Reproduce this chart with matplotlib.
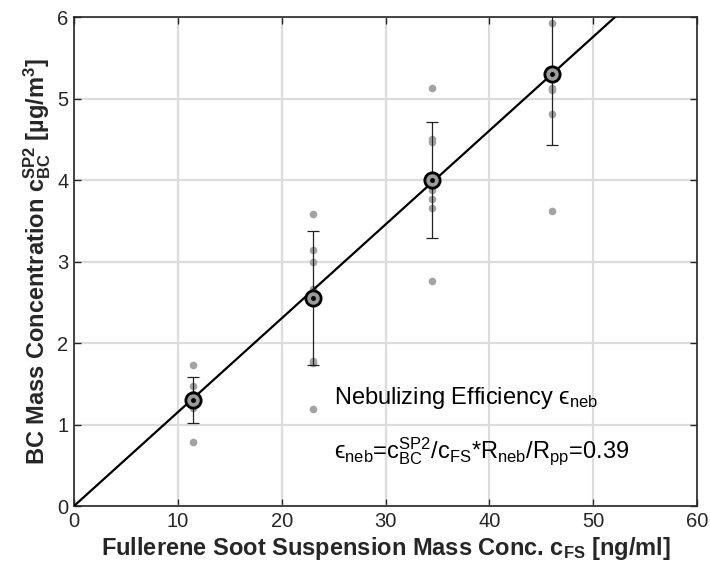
import matplotlib
matplotlib.use("Agg")
import matplotlib.pyplot as plt
import numpy as np

plt.rcParams['font.family'] = ['Liberation Sans', 'DejaVu Sans']
plt.rcParams['mathtext.fontset'] = 'custom'
plt.rcParams['mathtext.rm'] = 'Liberation Sans'
plt.rcParams['mathtext.it'] = 'Liberation Sans:italic'
plt.rcParams['mathtext.bf'] = 'Liberation Sans:bold'
plt.rcParams['mathtext.sf'] = 'Liberation Sans'

# ---- data ----
fs_conc = [11.5, 23.0, 34.5, 46.0]
mean_bc = [1.30, 2.55, 4.00, 5.30]
err_bc = [0.28, 0.82, 0.71, 0.87]
single_g1 = [1.73, 1.48, 1.38, 1.26, 1.20, 0.79]
single_g2 = [3.58, 3.14, 3.00, 2.67, 1.78, 1.76, 1.19]
single_g3 = [5.13, 4.50, 4.47, 3.88, 3.77, 3.66, 2.76]
single_g4 = [5.93, 5.30, 5.13, 5.10, 4.81, 3.62]
fit_slope = 0.1152
x_ticks = [0, 10, 20, 30, 40, 50, 60]
y_ticks = [0, 1, 2, 3, 4, 5, 6]

fig = plt.figure(figsize=(7.1, 5.7), dpi=100)
ax = fig.add_axes([0.104, 0.112, 0.878, 0.858])

ax.grid(True, color='#dcdcdc', linewidth=1.6, zorder=0)
ax.set_axisbelow(True)

singles = [single_g1, single_g2, single_g3, single_g4]
for xv, vals in zip(fs_conc, singles):
    ax.plot([xv] * len(vals), vals, 'o', color='#a3a3a3', markersize=5.5,
            markeredgewidth=0, zorder=2)

xl = np.array([0, 60])
ax.plot(xl, fit_slope * xl, color='black', linewidth=1.6, zorder=3)

ax.errorbar(fs_conc, mean_bc, yerr=err_bc, fmt='none', ecolor='#222222',
            elinewidth=0.9, capsize=4.5, capthick=0.9, zorder=4)
ax.plot(fs_conc, mean_bc, 'o', markersize=11, markerfacecolor='#9a9a9a',
        markeredgecolor='black', markeredgewidth=2, zorder=5)
ax.plot(fs_conc, mean_bc, 'o', markersize=2.5, color='black', zorder=6)

ax.set_xlim(0, 60)
ax.set_ylim(0, 6)
ax.set_xticks(x_ticks)
ax.set_yticks(y_ticks)
ax.tick_params(direction='in', top=True, right=True, length=5, width=1,
               labelsize=14.5, colors='#262626', pad=4)
for s in ax.spines.values():
    s.set_linewidth(1.2)
    s.set_color('#262626')

ax.set_xlabel(r'Fullerene Soot Suspension Mass Conc. $\mathbf{c_{FS}}$ [ng/ml]',
              fontsize=17, fontweight='bold', color='#262626', labelpad=3)
ax.set_ylabel(r'BC Mass Concentration $\mathbf{c^{SP2}_{BC}}$ [µg/m$\mathbf{^3}$]',
              fontsize=17, fontweight='bold', color='#262626', labelpad=3)

ax.text(25, 1.33, 'Nebulizing Efficiency ϵ$_{\\mathrm{neb}}$', fontsize=17,
        va='center', ha='left', color='black')
ax.text(25, 0.68,
        'ϵ$_{\\mathrm{neb}}$=c$^{\\mathrm{SP2}}_{\\mathrm{BC}}$/c$_{\\mathrm{FS}}$*R$_{\\mathrm{neb}}$/R$_{\\mathrm{pp}}$=0.39',
        fontsize=17, va='center', ha='left', color='black')

fig.savefig('out.png', dpi=100)
